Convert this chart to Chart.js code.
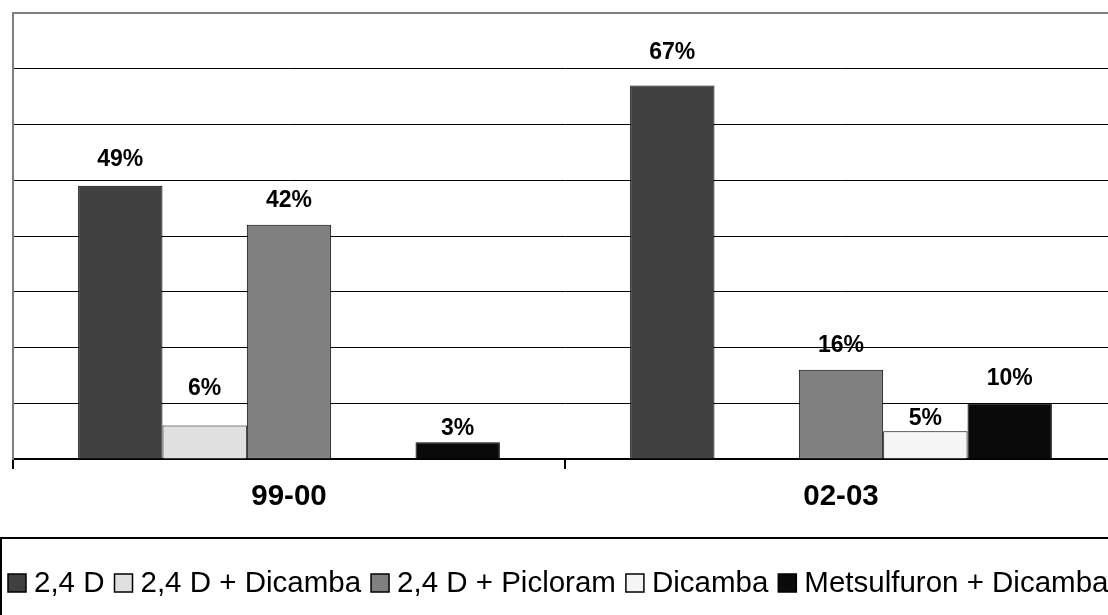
<!DOCTYPE html>
<html>
<head>
<meta charset="utf-8">
<script src="https://cdn.jsdelivr.net/npm/chart.js@4.4.1/dist/chart.umd.min.js"></script>
<style>
  html, body { margin: 0; padding: 0; background: #fff; overflow: hidden; width: 1108px; height: 615px; }
  #wrap { width: 1125px; height: 615px; }
</style>
</head>
<body>
<div id="wrap"><canvas id="c" width="1125" height="615"></canvas></div>
<script>
// Herbicide use share by season (%)
const seasons = ['99-00', '02-03'];
const seriesNames = ['2,4 D', '2,4 D + Dicamba', '2,4 D + Picloram', 'Dicamba', 'Metsulfuron + Dicamba'];
const d24 = [49, 67];
const d24Dicamba = [6, null];
const d24Picloram = [42, 16];
const dicamba = [null, 5];
const metsulfuronDicamba = [3, 10];
const yMax = 80;
const yStep = 10;

const FONT = "'Liberation Sans', Arial, sans-serif";
const fills = ['#404040', '#e0e0e0', '#808080', '#f5f5f5', '#0a0a0a'];
const seriesValues = [d24, d24Dicamba, d24Picloram, dicamba, metsulfuronDicamba];

// distance from bar top to the centre of its value label
const labelLift = [[26, 33], [37, 0], [24, 24], [0, 12], [14, 25]];

const valueLabels = {
  id: 'valueLabels',
  beforeDraw(chart) {
    const ctx = chart.ctx;
    ctx.save();
    ctx.font = 'bold 23px ' + FONT;
    ctx.fillStyle = '#000';
    ctx.textAlign = 'center';
    ctx.textBaseline = 'middle';
    chart.data.datasets.forEach((ds, di) => {
      const meta = chart.getDatasetMeta(di);
      meta.data.forEach((bar, i) => {
        const v = ds.data[i];
        if (v === null || v === undefined) return;
        ctx.fillText(v + '%', bar.x, bar.y - labelLift[di][i]);
      });
    });
    ctx.restore();
  }
};

const boxLegend = {
  id: 'boxLegend',
  afterDraw(chart) {
    const ctx = chart.ctx;
    const top = chart.chartArea.bottom + 79;
    const cy = top + 45;
    ctx.save();
    ctx.lineWidth = 2;
    ctx.strokeStyle = '#000';
    ctx.strokeRect(1, top, chart.width + 20, 200);
    ctx.font = '29.5px ' + FONT;
    ctx.textBaseline = 'middle';
    ctx.textAlign = 'left';
    let x = 8;
    chart.data.datasets.forEach(ds => {
      ctx.fillStyle = ds.backgroundColor;
      ctx.fillRect(x, cy - 9, 18, 18);
      ctx.lineWidth = 1.5;
      ctx.strokeStyle = '#000';
      ctx.strokeRect(x, cy - 9, 18, 18);
      ctx.fillStyle = '#000';
      ctx.fillText(ds.label, x + 26, cy + 1);
      x += 26 + ctx.measureText(ds.label).width + 10;
    });
    ctx.restore();
  }
};

new Chart(document.getElementById('c'), {
  type: 'bar',
  data: {
    labels: seasons,
    datasets: seriesNames.map((name, k) => ({
      label: name,
      data: seriesValues[k],
      backgroundColor: fills[k],
      borderColor: '#000',
      borderWidth: 1,
      categoryPercentage: 0.764,
      barPercentage: 1
    }))
  },
  options: {
    responsive: false,
    animation: false,
    layout: { padding: { top: 13, left: 13, right: 8, bottom: 101 } },
    plugins: { legend: { display: false }, tooltip: { enabled: false } },
    scales: {
      x: {
        afterFit(scale) { scale.height = 55; },
        grid: {
          display: true,
          drawOnChartArea: false,
          drawTicks: true,
          tickLength: 10,
          color: '#000',
          lineWidth: 2
        },
        border: { display: true, color: '#000', width: 2 },
        ticks: {
          color: '#000',
          padding: 10,
          font: { family: FONT, size: 29.5, weight: 'bold' }
        }
      },
      y: {
        min: 0,
        max: yMax,
        ticks: { display: false, stepSize: yStep },
        grid: {
          drawTicks: false,
          color: c => c.tick.value === yMax ? '#808080' : (c.tick.value === 0 ? 'rgba(0,0,0,0)' : '#000'),
          lineWidth: c => c.tick.value === yMax ? 2 : 1
        },
        border: { display: true, color: '#808080', width: 2 }
      }
    }
  },
  plugins: [valueLabels, boxLegend]
});
</script>
</body>
</html>
